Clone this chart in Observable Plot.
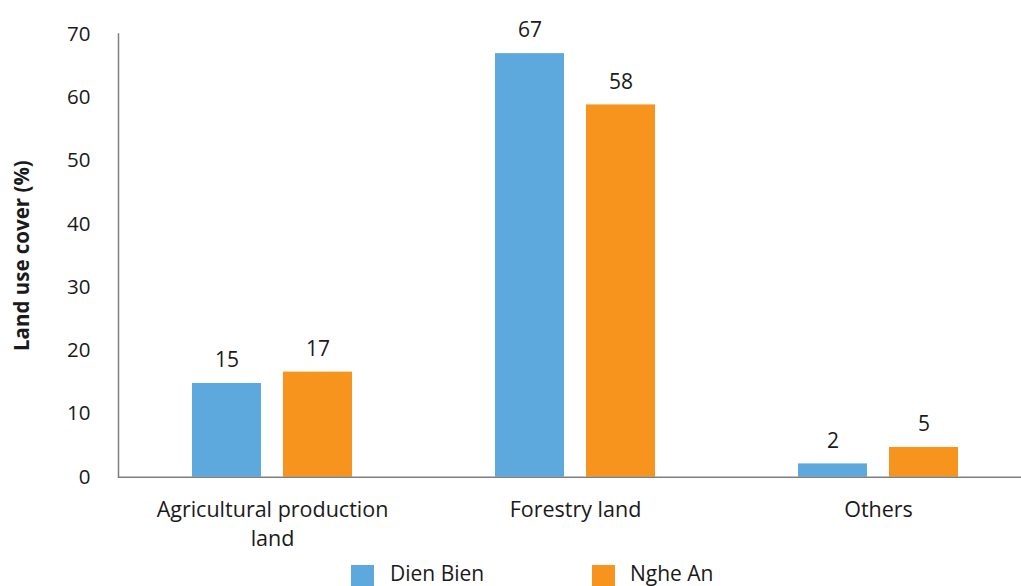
<!DOCTYPE html>
<html>
<head>
<meta charset="utf-8">
<script src="https://cdn.jsdelivr.net/npm/d3@7"></script>
<script src="https://cdn.jsdelivr.net/npm/@observablehq/plot@0.6"></script>
<style>
  html, body { margin: 0; padding: 0; background: #fff; overflow: hidden; }
  #wrap { position: relative; width: 1021px; font-family: "Open Sans", sans-serif; color: #1a1a1a; }
  #legend { position: relative; height: 40px; }
  .sw { position: absolute; top: 9px; width: 23px; height: 23px; }
  .lt { position: absolute; top: 3px; font-size: 21px; line-height: 28px; white-space: nowrap; }
</style>
</head>
<body>
<div id="wrap"><div id="chart"></div><div id="legend"></div></div>
<script>
const categories = ["Agricultural production\nland", "Forestry land", "Others"];
const series = ["Dien Bien", "Nghe An"];
const dienBien = [14.8, 66.9, 2.1];
const ngheAn = [16.6, 58.8, 4.7];
const dienBienLabels = ["15", "67", "2"];
const ngheAnLabels = ["17", "58", "5"];
const yTicks = [0, 10, 20, 30, 40, 50, 60, 70];
const colors = ["#5DA9DD", "#F7941D"];
const yTitle = "Land use cover (%)";

const dbData = categories.map((c, i) => ({category: c, value: dienBien[i], label: dienBienLabels[i]}));
const naData = categories.map((c, i) => ({category: c, value: ngheAn[i], label: ngheAnLabels[i]}));

const H = 556;
const chart = Plot.plot({
  width: 1021,
  height: H,
  marginLeft: 118,
  marginRight: 0,
  marginTop: 33.5,
  marginBottom: H - 476.7,
  x: {domain: categories, range: [191, 958.5], paddingInner: 0.473, paddingOuter: 0},
  y: {domain: [0, 70]},
  style: {fontFamily: "'Open Sans', sans-serif", fontSize: "20px", color: "#1a1a1a", background: "white"},
  marks: [
    Plot.barY(dbData, {x: "category", y: "value", fill: colors[0], insetRight: 91}),
    Plot.barY(naData, {x: "category", y: "value", fill: colors[1], insetLeft: 91}),
    Plot.ruleY([0], {stroke: "#7f7f7f", strokeWidth: 1.5}),
    Plot.frame({anchor: "left", stroke: "#7f7f7f", strokeWidth: 1.5}),
    Plot.text(dbData, {x: "category", y: "value", text: "label", dx: -45.5, dy: -23, fontSize: 21, fill: "#1a1a1a"}),
    Plot.text(naData, {x: "category", y: "value", text: "label", dx: 45.5, dy: -23, fontSize: 21, fill: "#1a1a1a"}),
    Plot.axisY({ticks: yTicks, tickSize: 0, tickPadding: 28, label: null, fontSize: 20.5}),
    Plot.axisX({tickSize: 0, tickPadding: 20, label: null, lineHeight: 1.32, fontSize: 21.5}),
    Plot.text([yTitle], {frameAnchor: "left", textAnchor: "middle", rotate: -90, dx: -96, fontWeight: "bold", fontSize: 20.5, fill: "#1a1a1a"})
  ]
});
document.getElementById("chart").appendChild(chart);

const legend = document.getElementById("legend");
const swX = [351, 592];
const txX = [390, 630];
series.forEach((s, i) => {
  const sw = document.createElement("div");
  sw.className = "sw";
  sw.style.left = swX[i] + "px";
  sw.style.background = colors[i];
  legend.appendChild(sw);
  const t = document.createElement("div");
  t.className = "lt";
  t.style.left = txX[i] + "px";
  t.textContent = s;
  legend.appendChild(t);
});
</script>
</body>
</html>
